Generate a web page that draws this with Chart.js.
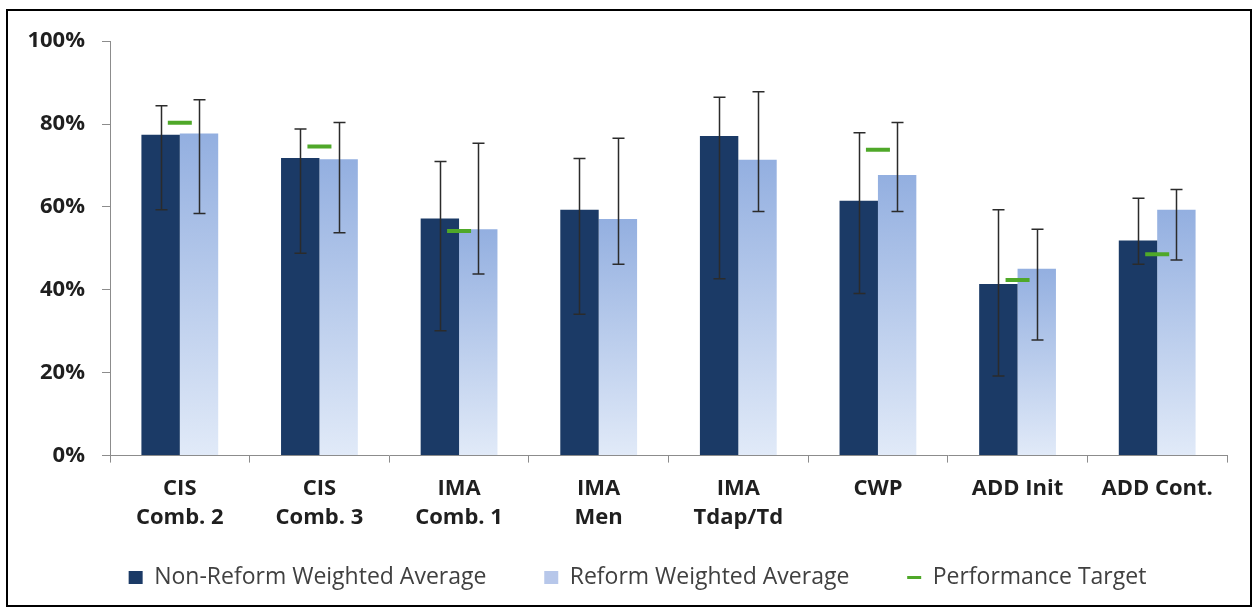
<!DOCTYPE html>
<html>
<head>
<meta charset="utf-8">
<title>Weighted averages vs performance target</title>
<script src="https://cdn.jsdelivr.net/npm/chart.js@4.4.1/dist/chart.umd.min.js"></script>
<style>
    html, body { margin: 0; padding: 0; background: #fff; }
    #frame {
        position: absolute; left: 6px; top: 9px;
        width: 1246px; height: 598px;
        border: 2px solid #000; box-sizing: border-box;
    }
    #wrap { position: relative; width: 1242px; height: 594px; }
</style>
</head>
<body>
<div id="frame"><div id="wrap"><canvas id="measures_chart"></canvas></div></div>
<script>
// Data (percent)
var categories = [
    ["CIS", "Comb. 2"],
    ["CIS", "Comb. 3"],
    ["IMA", "Comb. 1"],
    ["IMA", "Men"],
    ["IMA", "Tdap/Td"],
    "CWP",
    "ADD Init",
    "ADD Cont."
];
var nonReform = [77.4, 71.8, 57.2, 59.3, 77.1, 61.5, 41.4, 51.9];
var nonReformLow = [59.3, 48.8, 30.1, 34.1, 42.7, 39.1, 19.2, 46.2];
var nonReformHigh = [84.4, 78.8, 71.0, 71.7, 86.5, 77.9, 59.3, 62.1];
var reform = [77.7, 71.5, 54.6, 57.1, 71.4, 67.7, 45.1, 59.3];
var reformLow = [58.4, 53.8, 43.8, 46.2, 58.9, 58.9, 27.9, 47.2];
var reformHigh = [85.9, 80.4, 75.4, 76.6, 87.8, 80.4, 54.6, 64.2];
var target = [80.3, 74.6, 54.2, null, null, 73.8, 42.4, 48.6];
var yTicks = [0, 20, 40, 60, 80, 100];

var darkBlue = "#1b3a66";
var green = "#4fa829";
var axisGrey = "#8c8c8c";
var textColor = "#1f1f1f";

Chart.defaults.font.family = "'Open Sans', sans-serif";

// light bars fade from mid blue at the top of each bar to pale at the axis
function reformFill(context) {
    var chart = context.chart;
    var area = chart.chartArea;
    if (!area || context.type !== "data") {
        return "#b7c7ea";
    }
    var top = chart.scales.y.getPixelForValue(reform[context.dataIndex]);
    var g = chart.ctx.createLinearGradient(0, top, 0, area.bottom);
    g.addColorStop(0, "#93afe0");
    g.addColorStop(1, "#e1eaf8");
    return g;
}

// error bars drawn on top of the bars
var errorBars = {
    id: "errorBars",
    afterDatasetsDraw: function (chart) {
        var ctx = chart.ctx;
        var y = chart.scales.y;
        var ranges = [[nonReformLow, nonReformHigh], [reformLow, reformHigh]];
        ctx.save();
        ctx.strokeStyle = "#2b2b2b";
        ctx.lineWidth = 1.5;
        ranges.forEach(function (r, i) {
            var meta = chart.getDatasetMeta(i);
            meta.data.forEach(function (bar, j) {
                var x = Math.round(bar.x) + 0.5;
                var lo = y.getPixelForValue(r[0][j]);
                var hi = y.getPixelForValue(r[1][j]);
                ctx.beginPath();
                ctx.moveTo(x, lo);
                ctx.lineTo(x, hi);
                ctx.moveTo(x - 6, lo);
                ctx.lineTo(x + 6, lo);
                ctx.moveTo(x - 6, hi);
                ctx.lineTo(x + 6, hi);
                ctx.stroke();
            });
        });
        ctx.restore();
    }
};

// nudge the legend row to the right a little
var legendShift = {
    id: "legendShift",
    afterLayout: function (chart) {
        if (chart.legend) {
            chart.legend.left += 28;
        }
    }
};

new Chart(document.getElementById("measures_chart").getContext("2d"), {
    type: "bar",
    data: {
        labels: categories,
        datasets: [{
            label: "Non-Reform Weighted Average",
            data: nonReform,
            backgroundColor: darkBlue,
            pointStyle: "rect",
            order: 1
        }, {
            label: "Reform Weighted Average",
            data: reform,
            backgroundColor: reformFill,
            pointStyle: "rect",
            order: 1
        }, {
            type: "line",
            label: "Performance Target",
            data: target,
            showLine: false,
            pointStyle: "line",
            pointRadius: 12,
            pointHoverRadius: 12,
            pointBorderWidth: 4,
            pointHoverBorderWidth: 4,
            borderColor: green,
            backgroundColor: green,
            order: 0
        }]
    },
    options: {
        responsive: true,
        maintainAspectRatio: false,
        animation: false,
        layout: { padding: { left: 12, right: 23, top: 29, bottom: 6 } },
        datasets: {
            bar: { categoryPercentage: 0.55, barPercentage: 1 }
        },
        scales: {
            x: {
                grid: { drawOnChartArea: false, drawTicks: true, tickLength: 7, color: axisGrey, offset: true },
                border: { color: axisGrey, width: 1 },
                ticks: {
                    padding: 11,
                    color: textColor,
                    maxRotation: 0,
                    autoSkip: false,
                    font: { size: 22, weight: "bold", lineHeight: 1.35 }
                }
            },
            y: {
                min: 0,
                max: 100,
                afterFit: function (scale) { scale.width = 90; },
                afterBuildTicks: function (scale) {
                    scale.ticks = yTicks.map(function (v) { return { value: v }; });
                },
                grid: { drawOnChartArea: false, tickLength: 8, color: axisGrey },
                border: { color: axisGrey, width: 1 },
                ticks: {
                    padding: 17,
                    color: textColor,
                    font: { size: 22, weight: "bold" },
                    callback: function (v) { return v + "%"; }
                }
            }
        },
        plugins: {
            tooltip: { enabled: false },
            legend: {
                position: "bottom",
                labels: {
                    usePointStyle: true,
                    pointStyleWidth: 14,
                    boxHeight: 13,
                    padding: 22,
                    color: "#404040",
                    font: { size: 23 },
                    generateLabels: function (chart) {
                        var items = Chart.defaults.plugins.legend.labels.generateLabels(chart);
                        items.sort(function (a, b) { return a.datasetIndex - b.datasetIndex; });
                        items[0].fillStyle = darkBlue;
                        items[0].lineWidth = 0;
                        items[0].text += "      ";
                        items[1].fillStyle = "#b7c7ea";
                        items[1].lineWidth = 0;
                        items[1].text += "      ";
                        items[2].pointStyle = "line";
                        items[2].strokeStyle = green;
                        items[2].lineWidth = 3;
                        return items;
                    }
                }
            }
        }
    },
    plugins: [errorBars, legendShift]
});
</script>
</body>
</html>
